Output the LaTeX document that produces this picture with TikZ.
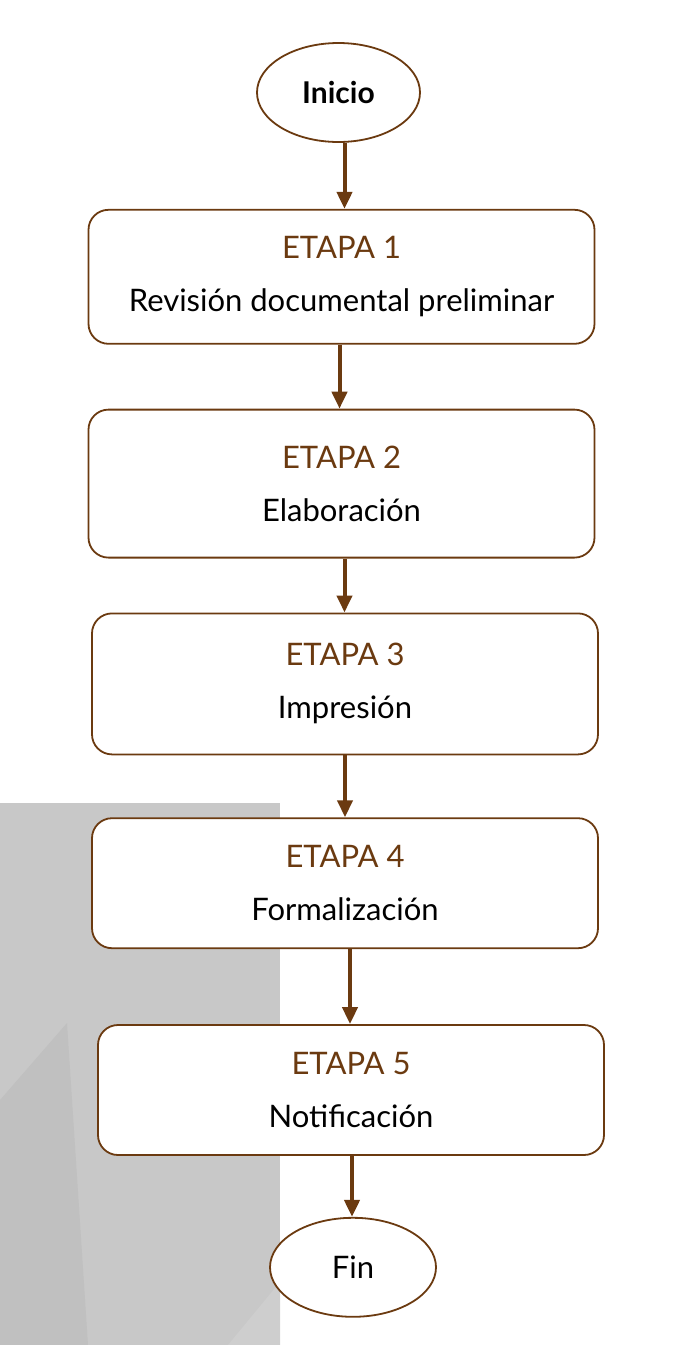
\documentclass[tikz,border=0pt]{standalone}
\usepackage{fontspec}
\setmainfont{Lato}
\usepackage{xcolor}
\usetikzlibrary{shapes,arrows.meta,positioning}
\definecolor{brown}{RGB}{107, 58, 16}
\definecolor{bgray}{RGB}{200, 200, 200}
\definecolor{dgray}{RGB}{192, 192, 192}
\definecolor{lgray}{RGB}{206, 206, 206}
\tikzstyle{term} = [ellipse, draw=brown, line width=1.8pt, fill=white, text=black, text centered, minimum width=163pt, minimum height=99pt, inner sep=0pt]
\tikzstyle{stage} = [rectangle, rounded corners=20pt, draw=brown, line width=1.8pt, fill=white, text=black, align=center, minimum width=506pt, font=\fontsize{31}{53}\selectfont]
\tikzstyle{tedge} = [draw, line width=4pt, color=brown, -{Triangle[length=17pt,width=15pt]}]
\newcommand{\etapa}[1]{\textcolor{brown}{ETAPA #1}}

\begin{document}
\begin{tikzpicture}[x=1pt, y=-1pt]

\useasboundingbox (0,0) rectangle (678,1345);

% background =============================
\fill[bgray] (0,803) rectangle (280,1345);
\fill[dgray] (0,1100) -- (67,1023) -- (88,1345) -- (0,1345) -- cycle;
\fill[lgray] (228,1345) -- (280,1282) -- (280,1345) -- cycle;

% nodes
\node[term, font=\bfseries\fontsize{30}{32}\selectfont] (ini) at (338.5,92.5) {Inicio};
\node[stage, minimum height=134pt, below=66pt of ini, xshift=3pt] (e1) {\etapa{1}\\ Revisión documental preliminar};
\node[stage, minimum height=148pt, below=64pt of e1] (e2) {\etapa{2}\\ Elaboración};
\node[stage, minimum height=141pt, below=54pt of e2, xshift=3.5pt] (e3) {\etapa{3}\\ Impresión};
\node[stage, minimum height=130pt, below=62pt of e3] (e4) {\etapa{4}\\ Formalización};
\node[stage, minimum height=130pt, below=75pt of e4, xshift=6pt] (e5) {\etapa{5}\\ Notificación};
\node[term, minimum width=166pt, font=\fontsize{31}{33}\selectfont, below=61pt of e5, xshift=2pt] (fin) {Fin};

% edges
\path[tedge] ([xshift=6pt]ini.south) -- ([xshift=6pt]ini.south |- e1.north);
\path[tedge] ([xshift=-2pt]e1.south) -- ([xshift=-2pt]e1.south |- e2.north);
\path[tedge] ([xshift=3pt]e2.south) -- ([xshift=3pt]e2.south |- e3.north);
\path[tedge] (e3.south) -- (e3.south |- e4.north);
\path[tedge] ([xshift=5pt]e4.south) -- ([xshift=5pt]e4.south |- e5.north);
\path[tedge] ([xshift=1pt]e5.south) -- ([xshift=1pt]e5.south |- fin.north);

\end{tikzpicture}
\end{document}
